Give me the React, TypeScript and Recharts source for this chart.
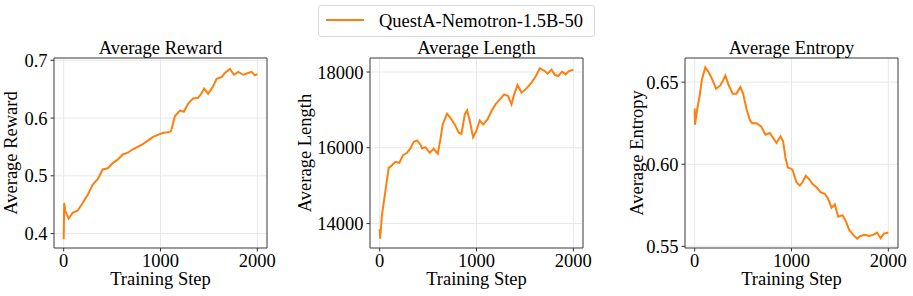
import React from 'react';
import { LineChart, Line, XAxis, YAxis, CartesianGrid, ReferenceArea } from 'recharts';

const FONT = '"Liberation Serif", "Times New Roman", Times, serif';
const ORANGE = '#ff7f0e';
const FS = 18.5;

const seriesName = 'QuestA-Nemotron-1.5B-50';
const xTicks = [0, 1000, 2000];

const rewardSteps = [0, 5, 17, 52, 93, 145, 196, 248, 300, 352, 403, 455, 507, 558, 610, 662, 714, 765, 817, 869, 920, 972, 1024, 1096, 1110, 1148, 1200, 1241, 1286, 1337, 1389, 1424, 1451, 1492, 1544, 1579, 1631, 1665, 1717, 1758, 1803, 1854, 1906, 1941, 1975, 2000];
const rewardValues = [0.39, 0.453, 0.439, 0.426, 0.436, 0.44, 0.453, 0.467, 0.485, 0.494, 0.511, 0.513, 0.522, 0.528, 0.537, 0.54, 0.546, 0.55, 0.555, 0.561, 0.567, 0.571, 0.574, 0.576, 0.578, 0.603, 0.613, 0.611, 0.625, 0.634, 0.635, 0.643, 0.651, 0.642, 0.655, 0.668, 0.671, 0.678, 0.685, 0.675, 0.68, 0.675, 0.678, 0.68, 0.674, 0.676];
const rewardTicks = [0.4, 0.5, 0.6, 0.7];

const lengthSteps = [0, 5, 24, 59, 93, 117, 162, 203, 241, 283, 317, 352, 386, 420, 438, 472, 517, 558, 600, 627, 651, 696, 731, 775, 817, 845, 879, 903, 931, 965, 996, 1034, 1068, 1114, 1155, 1196, 1241, 1285, 1327, 1361, 1389, 1424, 1465, 1517, 1568, 1613, 1654, 1706, 1734, 1775, 1810, 1844, 1885, 1920, 1954, 2000];
const lengthValues = [13850, 13600, 14238, 14855, 15470, 15515, 15630, 15604, 15806, 15868, 15983, 16160, 16194, 16088, 15983, 16018, 15868, 15974, 15842, 16220, 16617, 16899, 16793, 16617, 16397, 16370, 16881, 16987, 16705, 16282, 16441, 16722, 16617, 16749, 16969, 17145, 17278, 17410, 17366, 17145, 17410, 17656, 17454, 17568, 17718, 17894, 18097, 18026, 17956, 18062, 17920, 17894, 18009, 17938, 18026, 18062];
const lengthTicks = [14000, 16000, 18000];

const entropySteps = [0, 3, 24, 52, 76, 110, 145, 179, 220, 265, 293, 317, 352, 393, 431, 472, 500, 534, 569, 593, 638, 686, 731, 776, 810, 845, 886, 913, 938, 962, 1006, 1017, 1051, 1086, 1113, 1148, 1182, 1217, 1258, 1300, 1344, 1378, 1413, 1448, 1482, 1527, 1561, 1596, 1637, 1678, 1713, 1758, 1802, 1844, 1885, 1920, 1954, 2000];
const entropyValues = [0.634, 0.624, 0.633, 0.642, 0.652, 0.659, 0.656, 0.652, 0.646, 0.648, 0.651, 0.654, 0.648, 0.643, 0.643, 0.647, 0.643, 0.634, 0.627, 0.625, 0.625, 0.623, 0.618, 0.619, 0.616, 0.613, 0.617, 0.614, 0.604, 0.598, 0.597, 0.5955, 0.589, 0.587, 0.589, 0.593, 0.591, 0.588, 0.586, 0.583, 0.582, 0.579, 0.5735, 0.5755, 0.568, 0.569, 0.5653, 0.56, 0.557, 0.5547, 0.5563, 0.557, 0.5563, 0.557, 0.5584, 0.555, 0.5578, 0.5584];
const entropyTicks = [0.55, 0.6, 0.65];

const toRows = (steps: number[], values: number[]) => steps.map((s, i) => ({ step: s, value: values[i] }));

type PanelProps = {
  rows: { step: number; value: number }[];
  yDomain: [number, number];
  yTicks: number[];
  yFmt: (v: number) => string;
  title: string;
  yLabel: string;
  left: number;
  width: number;
  yAxisWidth: number;
  yLabelX: number;
};

const XDOMAIN: [number, number] = [-100, 2100];

function Panel(p: PanelProps) {
  const plotW = 213;
  const rightMargin = p.width - p.yAxisWidth - plotW;
  return (
    <div style={{ position: 'absolute', left: p.left, top: 0 }}>
      <LineChart width={p.width} height={296} data={p.rows} margin={{ top: 58, right: rightMargin, bottom: 0, left: 0 }}>
        <CartesianGrid stroke="#e8e8e8" strokeWidth={1} />
        <XAxis
          type="number"
          dataKey="step"
          domain={XDOMAIN}
          ticks={xTicks}
          allowDataOverflow
          height={48}
          tickSize={3.5}
          tickMargin={2}
          axisLine={false}
          tickLine={{ stroke: '#333' }}
          tick={{ fill: '#000', fontSize: FS, fontFamily: FONT }}
          label={{
            content: (props: any) => {
              const vb = props.viewBox || {};
              return (
                <text x={vb.x + vb.width / 2} y={vb.y + 37} textAnchor="middle" fill="#000" fontSize={FS} fontFamily={FONT}>
                  Training Step
                </text>
              );
            },
          }}
        />
        <YAxis
          type="number"
          domain={p.yDomain}
          ticks={p.yTicks}
          allowDataOverflow
          width={p.yAxisWidth}
          tickSize={3.5}
          tickMargin={3}
          axisLine={false}
          tickLine={{ stroke: '#333' }}
          tickFormatter={p.yFmt}
          tick={{ fill: '#000', fontSize: FS, fontFamily: FONT }}
          label={{
            content: (props: any) => {
              const vb = props.viewBox || {};
              const cx = vb.x + p.yLabelX;
              const cy = vb.y + vb.height / 2;
              return (
                <text x={cx} y={cy} transform={`rotate(-90 ${cx} ${cy})`} textAnchor="middle" fill="#000" fontSize={FS} fontFamily={FONT}>
                  {p.yLabel}
                </text>
              );
            },
          }}
        />
        <Line type="linear" dataKey="value" name={seriesName} stroke={ORANGE} strokeWidth={2} dot={false} isAnimationActive={false} />
        <ReferenceArea
          x1={XDOMAIN[0]}
          x2={XDOMAIN[1]}
          y1={p.yDomain[0]}
          y2={p.yDomain[1]}
          fill="none"
          stroke="#444"
          strokeWidth={1}
          label={{
            content: (props: any) => {
              const vb = props.viewBox || {};
              return (
                <text x={vb.x + vb.width / 2} y={vb.y - 4} textAnchor="middle" fill="#000" fontSize={FS} fontFamily={FONT}>
                  {p.title}
                </text>
              );
            },
          }}
        />
      </LineChart>
    </div>
  );
}

export default function App() {
  return (
    <div style={{ position: 'absolute', left: 0, top: 0, width: 913, height: 296, background: '#fff', fontFamily: FONT }}>
      <Panel rows={toRows(rewardSteps, rewardValues)} yDomain={[0.375, 0.704]} yTicks={rewardTicks} yFmt={(v) => v.toFixed(1)} title="Average Reward" yLabel="Average Reward" left={0} width={285} yAxisWidth={54} yLabelX={17} />
      <Panel rows={toRows(lengthSteps, lengthValues)} yDomain={[13355, 18370]} yTicks={lengthTicks} yFmt={(v) => String(Math.round(v))} title="Average Length" yLabel="Average Length" left={288} width={312} yAxisWidth={82} yLabelX={23} />
      <Panel rows={toRows(entropySteps, entropyValues)} yDomain={[0.549, 0.6647]} yTicks={entropyTicks} yFmt={(v) => v.toFixed(2)} title="Average Entropy" yLabel="Average Entropy" left={605} width={308} yAxisWidth={80} yLabelX={38} />
      <div style={{ position: 'absolute', left: 318, top: 5, width: 277, height: 32, boxSizing: 'border-box', border: '1px solid #d9d9d9', borderRadius: 3, background: '#fff' }}>
        <div style={{ position: 'absolute', left: 7, top: 13, width: 38, height: 2, background: ORANGE }} />
        <div style={{ position: 'absolute', left: 60, top: 0, height: 30, lineHeight: '30px', fontSize: FS, color: '#000', whiteSpace: 'nowrap' }}>{seriesName}</div>
      </div>
    </div>
  );
}
